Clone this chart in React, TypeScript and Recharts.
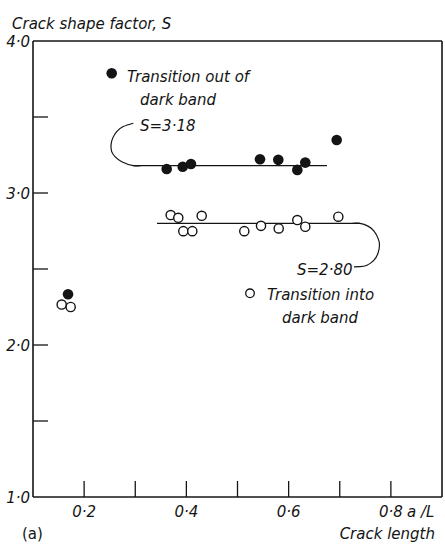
import React from 'react';
import { ScatterChart, Scatter, XAxis, YAxis } from 'recharts';

// Transition out of dark band (filled)
const outX = [0.1685, 0.3615, 0.3928, 0.409, 0.544, 0.5798, 0.617, 0.6326, 0.694];
const outS = [2.334, 3.158, 3.173, 3.191, 3.222, 3.218, 3.152, 3.2, 3.349];
// Transition into dark band (open)
const intoX = [0.1561, 0.1737, 0.3693, 0.3842, 0.43, 0.394, 0.4116, 0.5133, 0.546, 0.5806, 0.617, 0.6326, 0.6972];
const intoS = [2.266, 2.25, 2.855, 2.837, 2.85, 2.749, 2.749, 2.749, 2.784, 2.767, 2.822, 2.778, 2.844];

// Mean lines
const fit1X = [0.2962, 0.675];
const fit1S = [3.18, 3.18];
const fit2X = [0.3425, 0.7396];
const fit2S = [2.8, 2.8];

// Annotation leader curves
const hook1X = [0.2962, 0.2766, 0.2637, 0.2559, 0.2526, 0.2539, 0.2604, 0.2735, 0.2962, 0.31];
const hook1S = [3.459, 3.437, 3.404, 3.361, 3.318, 3.272, 3.239, 3.206, 3.18, 3.18];
const hook2X = [0.725, 0.7396, 0.7553, 0.767, 0.7748, 0.7777, 0.7748, 0.767, 0.7533, 0.7396, 0.7279];
const hook2S = [2.8, 2.8, 2.782, 2.749, 2.703, 2.657, 2.604, 2.558, 2.525, 2.515, 2.514];

const xTicks = [0.2, 0.3, 0.4, 0.5, 0.6, 0.7, 0.8];
const xTickLabels = ['0·2', '', '0·4', '', '0·6', '', '0·8'];
const yTicks = [1.0, 1.5, 2.0, 2.5, 3.0, 3.5, 4.0];
const yTickLabels = ['1·0', '', '2·0', '', '3·0', '', '4·0'];

const zip = (xs: number[], ys: number[]) => xs.map((x, i) => ({ x, s: ys[i] }));
const outData = zip(outX, outS);
const intoData = zip(intoX, intoS);
const fit1 = zip(fit1X, fit1S);
const fit2 = zip(fit2X, fit2S);
const hook1 = zip(hook1X, hook1S);
const hook2 = zip(hook2X, hook2S);

const INK = '#141414';
const FONT = "'DejaVu Sans', sans-serif";

const idx = (arr: number[], v: number) => arr.findIndex((t) => Math.abs(t - v) < 1e-6);

const BottomTick = (p: any) => {
  const i = idx(xTicks, p.payload.value);
  const label = i >= 0 ? xTickLabels[i] : '';
  return (
    <g>
      <line x1={p.x} x2={p.x} y1={p.y} y2={p.y - 16} stroke={INK} strokeWidth={1.3} />
      {label ? (
        <text x={p.x} y={p.y + 20} textAnchor="middle" fontFamily={FONT} fontStyle="italic" fontSize={15} fill={INK}>
          {label}
        </text>
      ) : null}
    </g>
  );
};

const TopTick = (p: any) => (
  <line x1={p.x} x2={p.x} y1={p.y} y2={p.y + 14} stroke={INK} strokeWidth={1.3} />
);

const LeftTick = (p: any) => {
  const v = p.payload.value;
  const i = idx(yTicks, v);
  const label = i >= 0 ? yTickLabels[i] : '';
  const edge = i === 0 || i === yTicks.length - 1;
  return (
    <g>
      {!edge ? <line x1={p.x} x2={p.x + 15} y1={p.y} y2={p.y} stroke={INK} strokeWidth={1.3} /> : null}
      {label ? (
        <text x={p.x - 3} y={p.y + 5.5} textAnchor="end" fontFamily={FONT} fontStyle="italic" fontSize={15} fill={INK}>
          {label}
        </text>
      ) : null}
    </g>
  );
};

const RightTick = (p: any) => {
  const i = idx(yTicks, p.payload.value);
  const edge = i === 0 || i === yTicks.length - 1;
  return edge ? <g /> : <line x1={p.x} x2={p.x - 14} y1={p.y} y2={p.y} stroke={INK} strokeWidth={1.3} />;
};

const FilledDot = (p: any) => <circle cx={p.cx} cy={p.cy} r={5.3} fill={INK} />;
const OpenDot = (p: any) => <circle cx={p.cx} cy={p.cy} r={4.6} fill="#fff" stroke={INK} strokeWidth={1.4} />;
const NoDot = () => <g />;

const txt = { fontFamily: FONT, fontStyle: 'italic' as const, fontSize: 15, fill: INK };

export default function App() {
  return (
    <div style={{ position: 'absolute', left: 0, top: 0, width: 445, height: 544, background: '#fff' }}>
      <ScatterChart width={445} height={544} margin={{ top: 40, right: 2, bottom: 46, left: 32 }}>
        <XAxis
          xAxisId="b"
          type="number"
          dataKey="x"
          domain={[0.1, 0.9]}
          ticks={xTicks}
          interval={0}
          height={1}
          tickSize={0}
          tickMargin={0}
          tickLine={false}
          axisLine={{ stroke: INK, strokeWidth: 1.6 }}
          tick={BottomTick}
          orientation="bottom"
        />
        <XAxis
          xAxisId="t"
          type="number"
          dataKey="x"
          domain={[0.1, 0.9]}
          ticks={xTicks}
          interval={0}
          height={1}
          tickSize={0}
          tickMargin={0}
          tickLine={false}
          axisLine={{ stroke: INK, strokeWidth: 1.6 }}
          tick={TopTick}
          orientation="top"
        />
        <YAxis
          yAxisId="l"
          type="number"
          dataKey="s"
          domain={[1, 4]}
          ticks={yTicks}
          interval={0}
          width={1}
          tickSize={0}
          tickMargin={0}
          tickLine={false}
          axisLine={{ stroke: INK, strokeWidth: 1.6 }}
          tick={LeftTick}
          orientation="left"
        />
        <YAxis
          yAxisId="r"
          type="number"
          dataKey="s"
          domain={[1, 4]}
          ticks={yTicks}
          interval={0}
          width={1}
          tickSize={0}
          tickMargin={0}
          tickLine={false}
          axisLine={{ stroke: INK, strokeWidth: 1.6 }}
          tick={RightTick}
          orientation="right"
        />
        <Scatter xAxisId="b" yAxisId="l" data={fit1} line={{ stroke: INK, strokeWidth: 1.2 }} shape={NoDot} isAnimationActive={false} />
        <Scatter xAxisId="b" yAxisId="l" data={fit2} line={{ stroke: INK, strokeWidth: 1.2 }} shape={NoDot} isAnimationActive={false} />
        <Scatter xAxisId="b" yAxisId="l" data={hook1} line={{ stroke: INK, strokeWidth: 1.2, fill: 'none' }} lineJointType="natural" shape={NoDot} isAnimationActive={false} />
        <Scatter xAxisId="b" yAxisId="l" data={hook2} line={{ stroke: INK, strokeWidth: 1.2, fill: 'none' }} lineJointType="natural" shape={NoDot} isAnimationActive={false} />
        <Scatter xAxisId="b" yAxisId="l" data={intoData} shape={OpenDot} isAnimationActive={false} />
        <Scatter xAxisId="b" yAxisId="l" data={outData} shape={FilledDot} isAnimationActive={false} />

        <text x={12} y={29} {...txt}>Crack shape factor, S</text>
        <circle cx={111.7} cy={73.3} r={5.3} fill={INK} />
        <text x={127} y={82} {...txt}>Transition out of</text>
        <text x={140} y={105} {...txt}>dark band</text>
        <text x={140} y={131} {...txt}>S=3·18</text>
        <text x={297} y={275} {...txt}>S=2·80</text>
        <circle cx={250} cy={293.3} r={4.3} fill="#fff" stroke={INK} strokeWidth={1.3} />
        <text x={267} y={300} {...txt}>Transition into</text>
        <text x={282} y={323} {...txt}>dark band</text>
        <text x={407} y={517} {...txt}>a /L</text>
        <text x={435} y={539} textAnchor="end" {...txt}>Crack length</text>
        <text x={22} y={539} fontFamily={FONT} fontSize={15} fill={INK}>(a)</text>
      </ScatterChart>
    </div>
  );
}
